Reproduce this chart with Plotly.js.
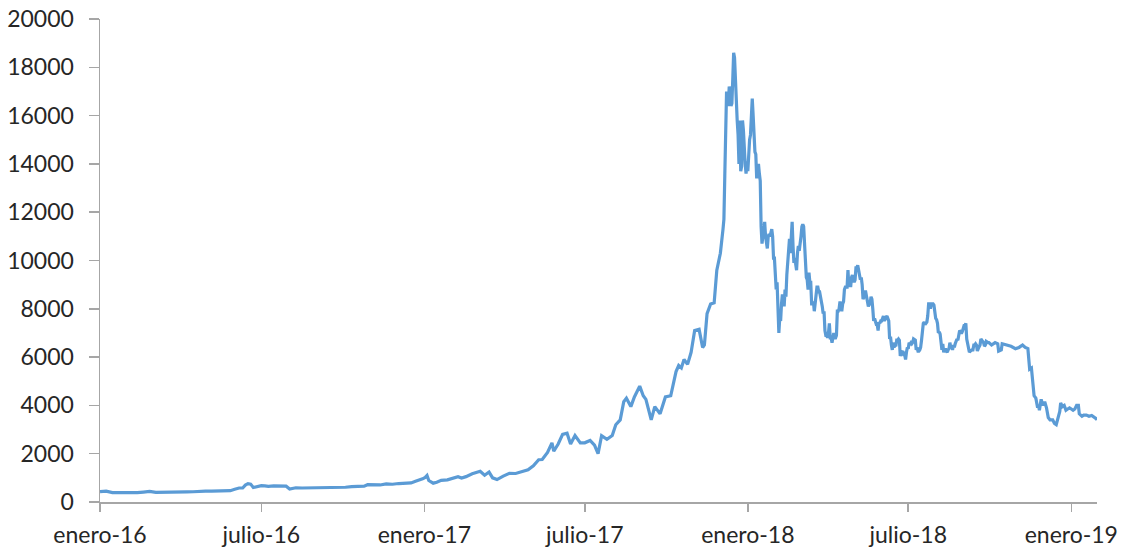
<!DOCTYPE html>
<html>
<head>
<meta charset="utf-8">
<script src="https://cdn.plot.ly/plotly-3.0.1.min.js"></script>
<style>html,body{margin:0;padding:0;background:#fff;}#chart{width:1126px;height:550px;}</style>
</head>
<body>
<div id="chart"></div>
<script>
const dates = [
"2016-01-01","2016-01-08","2016-01-15","2016-01-22","2016-01-29","2016-02-05","2016-02-12","2016-02-19","2016-02-26","2016-03-04",
"2016-03-11","2016-03-18","2016-03-25","2016-04-01","2016-04-08","2016-04-15","2016-04-22","2016-04-29","2016-05-06","2016-05-13",
"2016-05-20","2016-05-27","2016-06-01","2016-06-06","2016-06-10","2016-06-13","2016-06-16","2016-06-19","2016-06-22","2016-06-26",
"2016-07-01","2016-07-05","2016-07-09","2016-07-15","2016-07-22","2016-07-29","2016-08-02","2016-08-09","2016-08-16","2016-08-23",
"2016-08-30","2016-09-06","2016-09-13","2016-09-20","2016-09-27","2016-10-04","2016-10-11","2016-10-18","2016-10-25","2016-10-29",
"2016-11-05","2016-11-12","2016-11-19","2016-11-26","2016-12-03","2016-12-10","2016-12-17","2016-12-22","2016-12-26","2016-12-30",
"2017-01-02","2017-01-04","2017-01-06","2017-01-11","2017-01-15","2017-01-20","2017-01-27","2017-02-03","2017-02-08","2017-02-12",
"2017-02-17","2017-02-24","2017-03-02","2017-03-05","2017-03-10","2017-03-15","2017-03-19","2017-03-24","2017-03-31","2017-04-07",
"2017-04-14","2017-04-21","2017-04-28","2017-05-04","2017-05-10","2017-05-14","2017-05-20","2017-05-25","2017-05-27","2017-06-01",
"2017-06-06","2017-06-11","2017-06-15","2017-06-20","2017-06-26","2017-07-01","2017-07-07","2017-07-12","2017-07-16","2017-07-20",
"2017-07-26","2017-08-01","2017-08-05","2017-08-10","2017-08-14","2017-08-17","2017-08-22","2017-08-26","2017-09-01","2017-09-05",
"2017-09-08","2017-09-14","2017-09-18","2017-09-24","2017-09-30","2017-10-06","2017-10-12","2017-10-15","2017-10-18","2017-10-21",
"2017-10-25","2017-10-29","2017-11-02","2017-11-07","2017-11-11","2017-11-13","2017-11-16","2017-11-20","2017-11-24","2017-11-27",
"2017-11-29","2017-12-01","2017-12-04","2017-12-05","2017-12-06","2017-12-07","2017-12-08","2017-12-09","2017-12-10","2017-12-11",
"2017-12-12","2017-12-13","2017-12-14","2017-12-15","2017-12-16","2017-12-17","2017-12-18","2017-12-19","2017-12-20","2017-12-21",
"2017-12-22","2017-12-23","2017-12-24","2017-12-25","2017-12-26","2017-12-27","2017-12-28","2017-12-29","2017-12-30","2017-12-31",
"2018-01-01","2018-01-02","2018-01-03","2018-01-04","2018-01-05","2018-01-06","2018-01-07","2018-01-08","2018-01-09","2018-01-10",
"2018-01-11","2018-01-12","2018-01-13","2018-01-14","2018-01-15","2018-01-16","2018-01-17","2018-01-18","2018-01-19","2018-01-20",
"2018-01-21","2018-01-22","2018-01-23","2018-01-24","2018-01-25","2018-01-26","2018-01-27","2018-01-28","2018-01-29","2018-01-30",
"2018-01-31","2018-02-01","2018-02-02","2018-02-03","2018-02-04","2018-02-05","2018-02-06","2018-02-07","2018-02-08","2018-02-09",
"2018-02-10","2018-02-11","2018-02-12","2018-02-13","2018-02-14","2018-02-15","2018-02-16","2018-02-17","2018-02-18","2018-02-19",
"2018-02-20","2018-02-21","2018-02-22","2018-02-23","2018-02-24","2018-02-25","2018-02-26","2018-02-27","2018-02-28","2018-03-01",
"2018-03-02","2018-03-03","2018-03-04","2018-03-05","2018-03-06","2018-03-07","2018-03-08","2018-03-09","2018-03-10","2018-03-11",
"2018-03-12","2018-03-13","2018-03-14","2018-03-15","2018-03-16","2018-03-17","2018-03-18","2018-03-19","2018-03-20","2018-03-21",
"2018-03-22","2018-03-23","2018-03-24","2018-03-25","2018-03-26","2018-03-27","2018-03-28","2018-03-29","2018-03-30","2018-03-31",
"2018-04-01","2018-04-02","2018-04-03","2018-04-04","2018-04-05","2018-04-06","2018-04-07","2018-04-08","2018-04-09","2018-04-10",
"2018-04-11","2018-04-12","2018-04-13","2018-04-14","2018-04-15","2018-04-16","2018-04-17","2018-04-18","2018-04-19","2018-04-20",
"2018-04-21","2018-04-22","2018-04-23","2018-04-24","2018-04-25","2018-04-26","2018-04-27","2018-04-28","2018-04-29","2018-04-30",
"2018-05-01","2018-05-02","2018-05-03","2018-05-04","2018-05-05","2018-05-06","2018-05-07","2018-05-08","2018-05-09","2018-05-10",
"2018-05-11","2018-05-12","2018-05-13","2018-05-14","2018-05-15","2018-05-16","2018-05-17","2018-05-18","2018-05-19","2018-05-20",
"2018-05-21","2018-05-22","2018-05-23","2018-05-24","2018-05-25","2018-05-26","2018-05-27","2018-05-28","2018-05-29","2018-05-30",
"2018-05-31","2018-06-01","2018-06-02","2018-06-03","2018-06-04","2018-06-05","2018-06-06","2018-06-07","2018-06-08","2018-06-09",
"2018-06-10","2018-06-11","2018-06-12","2018-06-13","2018-06-14","2018-06-15","2018-06-16","2018-06-17","2018-06-18","2018-06-19",
"2018-06-20","2018-06-21","2018-06-22","2018-06-23","2018-06-24","2018-06-25","2018-06-26","2018-06-27","2018-06-28","2018-06-29",
"2018-06-30","2018-07-01","2018-07-02","2018-07-03","2018-07-04","2018-07-05","2018-07-06","2018-07-07","2018-07-08","2018-07-09",
"2018-07-10","2018-07-11","2018-07-12","2018-07-13","2018-07-14","2018-07-15","2018-07-16","2018-07-17","2018-07-18","2018-07-19",
"2018-07-20","2018-07-21","2018-07-22","2018-07-23","2018-07-24","2018-07-25","2018-07-26","2018-07-27","2018-07-28","2018-07-29",
"2018-07-30","2018-07-31","2018-08-01","2018-08-02","2018-08-03","2018-08-04","2018-08-05","2018-08-06","2018-08-07","2018-08-08",
"2018-08-09","2018-08-10","2018-08-11","2018-08-12","2018-08-13","2018-08-14","2018-08-15","2018-08-16","2018-08-17","2018-08-18",
"2018-08-19","2018-08-20","2018-08-21","2018-08-22","2018-08-23","2018-08-24","2018-08-25","2018-08-26","2018-08-27","2018-08-28",
"2018-08-29","2018-08-30","2018-08-31","2018-09-01","2018-09-02","2018-09-03","2018-09-04","2018-09-05","2018-09-06","2018-09-07",
"2018-09-08","2018-09-09","2018-09-10","2018-09-11","2018-09-12","2018-09-13","2018-09-14","2018-09-15","2018-09-16","2018-09-17",
"2018-09-18","2018-09-19","2018-09-20","2018-09-21","2018-09-22","2018-09-23","2018-09-24","2018-09-25","2018-09-26","2018-09-27",
"2018-09-28","2018-09-29","2018-09-30","2018-10-03","2018-10-07","2018-10-10","2018-10-11","2018-10-14","2018-10-15","2018-10-20",
"2018-10-25","2018-10-30","2018-11-03","2018-11-07","2018-11-10","2018-11-13","2018-11-14","2018-11-15","2018-11-17","2018-11-19",
"2018-11-20","2018-11-22","2018-11-24","2018-11-25","2018-11-26","2018-11-28","2018-11-30","2018-12-02","2018-12-04","2018-12-06",
"2018-12-08","2018-12-11","2018-12-13","2018-12-15","2018-12-17","2018-12-19","2018-12-20","2018-12-22","2018-12-24","2018-12-26",
"2018-12-28","2018-12-30","2019-01-01","2019-01-03","2019-01-05","2019-01-07","2019-01-09","2019-01-10","2019-01-13","2019-01-15",
"2019-01-18","2019-01-21","2019-01-24","2019-01-27","2019-01-29","2019-01-30"
];
const prices = [
430,450,390,385,380,385,385,410,440,400,
410,410,415,415,420,425,445,450,450,455,
445,470,530,580,580,700,760,740,600,640,
680,670,650,665,660,655,540,590,580,585,
575,610,610,610,605,610,640,640,655,715,
705,705,750,735,765,775,790,860,900,960,
1020,1100,890,780,820,895,915,1010,1050,995,
1050,1170,1230,1270,1110,1240,1000,930,1070,1190,
1180,1240,1330,1500,1750,1760,2050,2450,2100,2400,
2800,2850,2400,2750,2450,2450,2550,2350,2000,2750,
2600,2750,3200,3400,4150,4300,3950,4350,4800,4400,
4250,3400,3950,3650,4350,4400,5400,5650,5550,5900,
5700,6200,7100,7150,6400,6500,7800,8200,8250,9600,
10000,10300,11300,11700,13500,15500,17000,16600,16400,17200,
17000,16400,16500,17500,18600,18400,17200,16700,15800,15200,
14000,15800,13700,13900,15800,15400,14300,14000,13600,14100,
13700,14600,15000,15200,16500,16700,16000,14800,14500,14400,
13400,13800,14000,13600,13300,11400,10700,11000,11300,11600,
11000,10600,10500,11000,11100,11000,11200,11300,11000,10100,
10100,9100,8800,9100,8200,7000,7600,7500,8200,8600,
8400,8100,8800,8500,9400,10000,10100,10900,10300,11000,
11600,10600,9900,10100,9700,9600,10300,10600,10400,10900,
11000,11400,11500,11400,10700,9900,9300,9200,8800,9500,
9100,9100,8200,8200,8300,7900,8200,8600,8900,8900,
8700,8700,8500,8400,8100,7800,7900,7100,6900,6900,
6800,7000,7400,6800,6800,6600,6900,7000,6800,6800,
6900,7900,7900,8000,8300,8000,7900,8200,8300,8800,
8900,8900,8900,9600,8900,9200,8900,9300,9400,9200,
9100,9200,9700,9700,9800,9600,9300,9200,9300,9000,
8400,8500,8700,8700,8500,8300,8100,8200,8200,8500,
8400,8000,7500,7600,7400,7350,7350,7100,7450,7400,
7500,7500,7600,7700,7500,7600,7650,7700,7600,7500,
6750,6850,6500,6300,6600,6400,6500,6450,6700,6700,
6750,6700,6050,6150,6200,6250,6100,6100,5900,6200,
6400,6350,6600,6550,6600,6550,6600,6750,6700,6700,
6300,6400,6250,6250,6300,6400,6700,7300,7400,7450,
7350,7400,7450,7700,8200,8200,8000,8200,8200,8200,
8150,7750,7600,7550,7400,7000,7050,6950,6700,6300,
6550,6200,6300,6350,6250,6200,6300,6350,6600,6400,
6500,6300,6500,6400,6550,6700,6750,6700,6900,7100,
7050,6980,7050,7200,7300,7300,7400,6750,6500,6450,
6200,6250,6300,6300,6300,6500,6500,6550,6500,6250,
6350,6400,6500,6750,6700,6700,6600,6450,6500,6650,
6600,6600,6600,6500,6600,6550,6250,6300,6550,6500,
6450,6350,6400,6500,6400,6350,5700,5500,5550,4800,
4400,4300,3900,4000,3800,4250,4000,4150,3900,3500,
3400,3400,3250,3200,3500,3750,4100,3950,4000,3800,
3850,3900,3850,3800,3850,4000,4000,3650,3550,3600,
3600,3550,3580,3520,3450,3400
];
const tickDates = ["2016-01-01","2016-07-01","2017-01-01","2017-07-01","2018-01-01","2018-07-01","2019-01-01"];
const tickLabels = ["enero-16","julio-16","enero-17","julio-17","enero-18","julio-18","enero-19"];
const yTicks = [0,2000,4000,6000,8000,10000,12000,14000,16000,18000,20000];

const font = {family: "Lato, 'Open Sans', sans-serif", size: 23, color: "#262626"};
const trace = {
  x: dates, y: prices, type: "scatter", mode: "lines",
  line: {color: "#5B9BD5", width: 3.2}, hoverinfo: "x+y"
};
const layout = {
  width: 1126, height: 550,
  margin: {l: 100, r: 29, t: 19, b: 48, pad: 0},
  paper_bgcolor: "#fff", plot_bgcolor: "#fff",
  showlegend: false,
  font: font,
  xaxis: {
    type: "date", range: ["2016-01-01", "2019-01-30"],
    tickmode: "array", tickvals: tickDates, ticktext: tickLabels,
    ticks: "outside", ticklen: 8, tickwidth: 1.5, tickcolor: "#a6a6a6",
    showline: true, linecolor: "#a6a6a6", linewidth: 1.5,
    showgrid: false, zeroline: false, tickfont: font, ticklabelstandoff: 4
  },
  yaxis: {
    range: [0, 20000], tickmode: "array", tickvals: yTicks, tickformat: "d",
    ticks: "outside", ticklen: 10, tickwidth: 1.5, tickcolor: "#a6a6a6",
    showline: true, linecolor: "#a6a6a6", linewidth: 1.5,
    showgrid: false, zeroline: false, tickfont: font, ticklabelstandoff: 10
  }
};
Plotly.newPlot("chart", [trace], layout, {displayModeBar: false, staticPlot: true});
</script>
</body>
</html>
